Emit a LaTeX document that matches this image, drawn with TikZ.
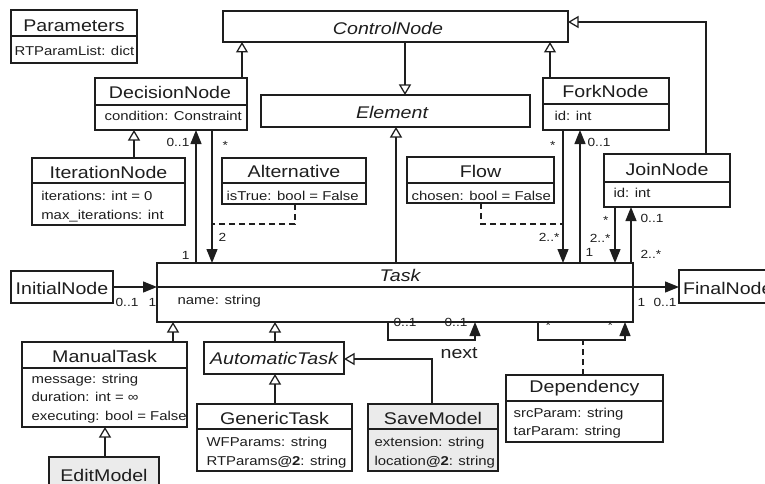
\documentclass[tikz,border=0pt]{standalone}
\usepackage{fontspec}
\setmainfont{Liberation Sans}[FakeStretch=1.16]
\usetikzlibrary{arrows.meta}
\newcommand\nmfont{\fontsize{16.9}{19}\selectfont}
\newcommand\atfont{\fontsize{12.85}{15}\selectfont}
\newcommand\mlfont{\fontsize{11.8}{13}\selectfont}
\definecolor{ink}{HTML}{1E1E1E}
\definecolor{shade}{HTML}{EBEBEB}
% box: #1 fill, #2 name, #3 x1, #4 y1, #5 x2, #6 y2
\newcommand\ubox[6][white]{\node[box,fill=#1,minimum width={(#5)-(#3)},minimum height={(#6)-(#4)}] (#2) at ({((#3)+(#5))/2},{((#4)+(#6))/2}) {};}
\newcommand\udiv[2]{\draw (#1.west |- 0,#2) -- (#1.east |- 0,#2);}
\begin{document}
\begin{tikzpicture}[x=1pt,y=-1pt,line width=1.25pt,color=ink,
  box/.style={draw=ink,rectangle,inner sep=0pt,outer sep=0pt},
  cname/.style={font=\nmfont,inner sep=0pt,anchor=base,text=ink},
  aname/.style={font=\nmfont\itshape,inner sep=0pt,anchor=base,text=ink},
  attr/.style={font=\atfont,inner sep=0pt,anchor=base west,text=ink},
  mult/.style={font=\mlfont,inner sep=0pt,text=ink},
  gen/.style={-{Triangle[open,length=10.5pt,width=12pt,fill=white]}},
  assoc/.style={-{Triangle[length=14pt,width=11pt]}},
  dline/.style={dash pattern=on 6pt off 4pt}]
\useasboundingbox (0,0) rectangle (765,484);
\clip (0,0) rectangle (765,484);

% boxes
\ubox{Parameters}{11}{10}{137}{63}
\ubox{ControlNode}{223}{11}{568}{42}
\ubox{Element}{261}{95}{530}{127}
\ubox{DecisionNode}{95}{78}{247}{130}
\ubox{ForkNode}{543}{78}{669}{130}
\ubox{IterationNode}{32}{158}{185}{225}
\ubox{Alternative}{222}{158}{366}{204}
\ubox{Flow}{407}{157}{554}{203}
\ubox{JoinNode}{604}{154}{730}{207}
\ubox{InitialNode}{11}{271}{113}{303}
\ubox{Task}{157}{263}{633}{322}
\ubox{FinalNode}{679}{270}{790}{303}
\ubox{ManualTask}{22}{342}{187}{427}
\ubox{AutomaticTask}{204}{342}{344}{374}
\ubox{GenericTask}{197}{404}{352}{471}
\ubox[shade]{SaveModel}{368}{404}{498}{471}
\ubox{Dependency}{506}{375}{663}{442}
\ubox[shade]{EditModel}{49}{457}{159}{495}

% dividers
\udiv{Parameters}{36}
\udiv{DecisionNode}{105}
\udiv{ForkNode}{104}
\udiv{IterationNode}{183}
\udiv{Alternative}{183}
\udiv{Flow}{183}
\udiv{JoinNode}{182}
\udiv{Task}{287}
\udiv{ManualTask}{368}
\udiv{GenericTask}{429}
\udiv{SaveModel}{429}
\udiv{Dependency}{401}

% names
\node[cname] (tParameters) at (74,31.7) {Parameters};
\node[aname] (tControlNode) at (388,34.3) {ControlNode};
\node[aname] (tElement) at (392,118.3) {Element};
\node[cname] (tDecisionNode) at (170,98.3) {DecisionNode};
\node[cname] (tForkNode) at (605.5,98) {ForkNode};
\node[cname] (tIterationNode) at (108.5,178.3) {IterationNode};
\node[cname] (tAlternative) at (294,177.3) {Alternative};
\node[cname] (tFlow) at (480.5,177.3) {Flow};
\node[cname] (tJoinNode) at (667,175) {JoinNode};
\node[cname] (tInitialNode) at (62,294) {InitialNode};
\node[aname] (tTask) at (400,281.7) {Task};
\node[cname,anchor=base west] (tFinalNode) at (682.5,294) {FinalNode};
\node[cname] (tManualTask) at (104.5,362.7) {ManualTask};
\node[aname] (tAutomaticTask) at (274,364) {AutomaticTask};
\node[cname] (tGenericTask) at (274.5,424) {GenericTask};
\node[cname] (tSaveModel) at (433,424) {SaveModel};
\node[cname] (tDependency) at (584.5,392.7) {Dependency};
\node[cname] (tEditModel) at (104,481.5) {EditModel};

% attributes
\node[attr] (aP1) at (14,55.5) {RTParamList: dict};
\node[attr] (aD1) at (104,120.7) {condition: Constraint};
\node[attr] (aF1) at (554,120.7) {id: int};
\node[attr] (aI1) at (40.7,200.7) {iterations: int = 0};
\node[attr] (aI2) at (40.7,219) {max\_iterations: int};
\node[attr] (aA1) at (226,200) {isTrue: bool = False};
\node[attr] (aFl1) at (411,200) {chosen: bool = False};
\node[attr] (aJ1) at (613,197.3) {id: int};
\node[attr] (aT1) at (177,304) {name: string};
\node[attr] (aM1) at (31,383) {message: string};
\node[attr] (aM2) at (31,401.7) {duration: int = ∞};
\node[attr] (aM3) at (31,420) {executing: bool = False};
\node[attr] (aG1) at (206,446.7) {WFParams: string};
\node[attr] (aG2) at (206,465) {RTParams\textbf{@2}: string};
\node[attr] (aS1) at (374,446.7) {extension: string};
\node[attr] (aS2) at (374,465) {location\textbf{@2}: string};
\node[attr] (aDe1) at (513,417.3) {srcParam: string};
\node[attr] (aDe2) at (513,435) {tarParam: string};

% generalizations
\draw[gen] (DecisionNode.north -| 242,0) -- (ControlNode.south -| 242,0);
\draw[gen] (ForkNode.north -| 550,0) -- (ControlNode.south -| 550,0);
\draw[gen] (ControlNode.south -| 405,0) -- (Element.north -| 405,0);
\draw[gen] (Task.north -| 396,0) -- (Element.south -| 396,0);
\draw[gen] (JoinNode.north -| 706,0) |- (ControlNode.east |- 0,22);
\draw[gen] (IterationNode.north -| 134,0) -- (DecisionNode.south -| 134,0);
\draw[gen] (ManualTask.north -| 173,0) -- (Task.south -| 173,0);
\draw[gen] (AutomaticTask.north -| 275,0) -- (Task.south -| 275,0);
\draw[gen] (GenericTask.north -| 275,0) -- (AutomaticTask.south -| 275,0);
\draw[gen] (EditModel.north -| 105,0) -- (ManualTask.south -| 105,0);
\draw[gen] (SaveModel.north -| 432,0) |- (AutomaticTask.east |- 0,359);

% associations
\draw[assoc] (Task.north -| 196,0) -- (DecisionNode.south -| 196,0);
\draw[assoc] (DecisionNode.south -| 212,0) -- (Task.north -| 212,0);
\draw[assoc] (ForkNode.south -| 563,0) -- (Task.north -| 563,0);
\draw[assoc] (Task.north -| 580,0) -- (ForkNode.south -| 580,0);
\draw[assoc] (JoinNode.south -| 615,0) -- (Task.north -| 615,0);
\draw[assoc] (Task.north -| 631,0) -- (JoinNode.south -| 631,0);
\draw[assoc] (InitialNode.east) -- (InitialNode.east -| Task.west);
\draw[assoc] (Task.east |- 0,287) -- (FinalNode.west |- 0,287);
\coordinate (nextA) at (388,340);
\coordinate (nextB) at (475,340);
\draw[assoc] (Task.south -| nextA) -- (nextA) -- (nextB) -- (Task.south -| nextB);
\coordinate (depA) at (538,340);
\coordinate (depB) at (625,340);
\coordinate (depM) at (583,340);
\draw[assoc] (Task.south -| depA) -- (depA) -- (depB) -- (Task.south -| depB);

% association-class dashed links
\coordinate (altJ) at (212,224);
\coordinate (flowJ) at (563,224);
\draw[dline] (Alternative.south -| 295,0) |- (altJ);
\draw[dline] (Flow.south -| 481,0) |- (flowJ);
\draw[dline] (Dependency.north -| depM) -- (depM);

% multiplicities
\node[mult,anchor=base east] (m1) at (190,146.7) {0..1};
\node[mult,anchor=base east] (m2) at (190,259) {1};
\node[mult,anchor=base west] (m3) at (222,149) {*};
\node[mult,anchor=base west] (m4) at (218,241.7) {2};
\node[mult,anchor=base east] (m5) at (556,149) {*};
\node[mult,anchor=base west] (m6) at (587,146.7) {0..1};
\node[mult,anchor=base east] (m7) at (560,241.7) {2..*};
\node[mult,anchor=base west] (m8) at (585,256) {1};
\node[mult,anchor=base east] (m9) at (609,224.5) {*};
\node[mult,anchor=base west] (m10) at (640,222.7) {0..1};
\node[mult,anchor=base east] (m11) at (611,242.7) {2..*};
\node[mult,anchor=base west] (m12) at (640,258.3) {2..*};
\node[mult,anchor=base west] (m13) at (115,306.7) {0..1};
\node[mult,anchor=base west] (m14) at (148,306.7) {1};
\node[mult,anchor=base west] (m15) at (637,306.7) {1};
\node[mult,anchor=base west] (m16) at (653,306.7) {0..1};
\node[mult,anchor=base west] (m17) at (393,326) {0..1};
\node[mult,anchor=base west] (m18) at (444,326) {0..1};
\node[cname,anchor=base west] (lnext) at (440,358) {next};
\node[mult,anchor=base west] (m19) at (545,329) {*};
\node[mult,anchor=base west] (m20) at (607,329) {*};
\end{tikzpicture}
\end{document}
